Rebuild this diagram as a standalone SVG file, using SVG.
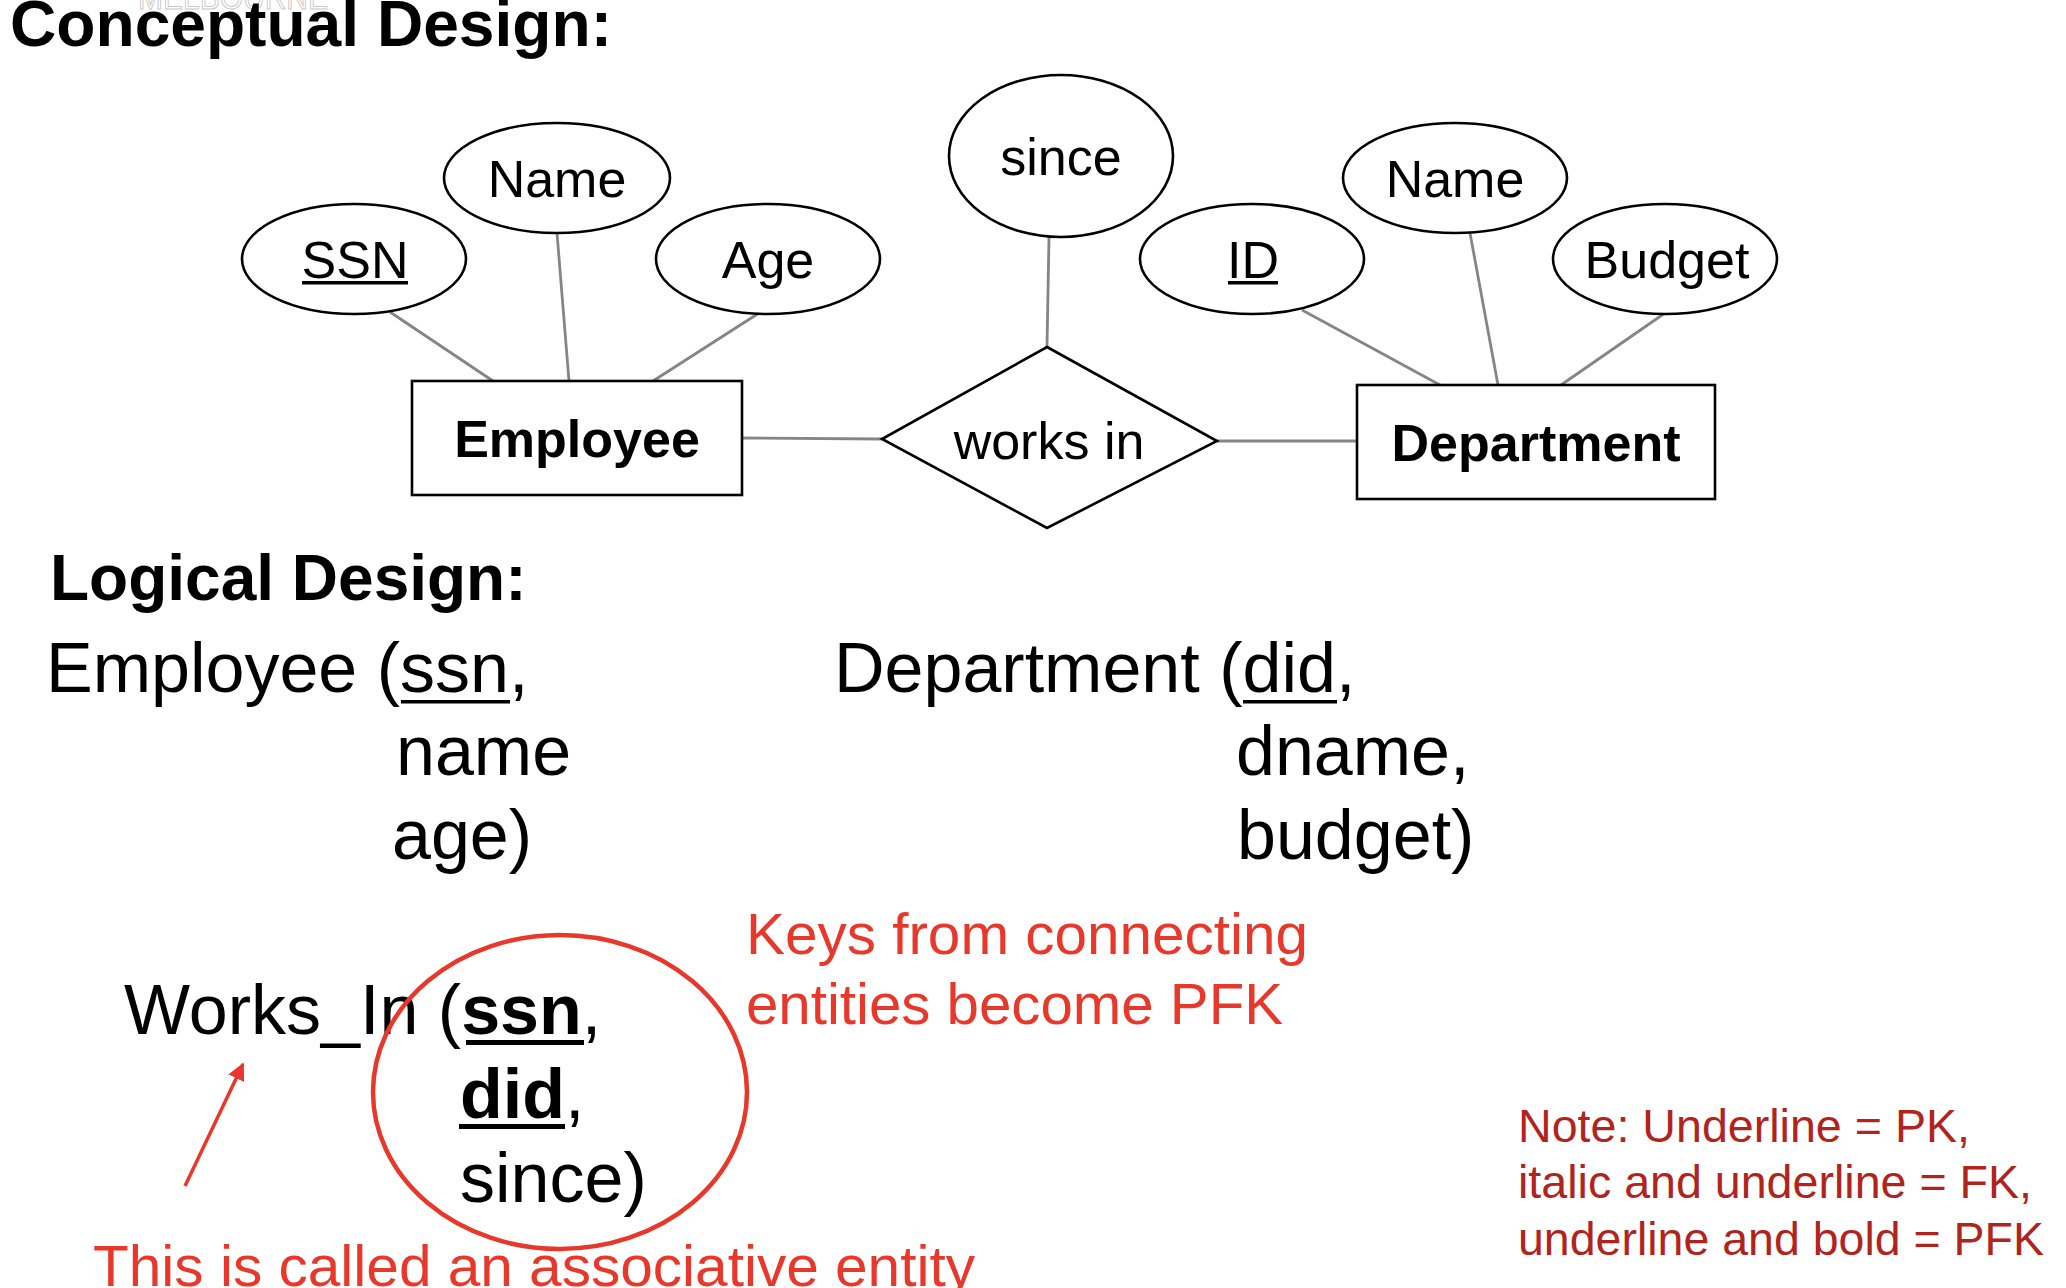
<svg xmlns="http://www.w3.org/2000/svg" width="2066" height="1288" viewBox="0 0 2066 1288">
  <style>
    text { font-family: "Liberation Sans", Arial, Helvetica, sans-serif; fill: #000; }
    .heading { font-size: 64px; font-weight: bold; }
    .attr-shape { fill: #fff; stroke: #000; stroke-width: 2.6; }
    .entity-shape { fill: #fff; stroke: #000; stroke-width: 2.6; }
    .attr-label { font-size: 52px; text-anchor: middle; }
    .entity-label { font-size: 52px; font-weight: bold; text-anchor: middle; }
    .link { stroke: #858585; stroke-width: 2.8; fill: none; }
    .ul { fill: #000; }
    .rel { font-size: 70px; }
    .rel-bold { font-weight: bold; }
    .note-red { fill: #e8382b; font-size: 58px; }
    .note-dark { fill: #b1241d; font-size: 46px; }
    .mark { fill: none; stroke: #e8382b; stroke-width: 4.5; }
  </style>
  <defs>
    <marker id="redHead" viewBox="0 0 10 10" refX="9" refY="5" markerWidth="5" markerHeight="5" orient="auto" markerUnits="strokeWidth">
      <path d="M0,0 L10,5 L0,10 z" fill="#e8382b"/>
    </marker>
  </defs>

  <rect x="0" y="0" width="2066" height="1288" fill="#fff"/>

  <!-- faint watermark at the top edge, behind the heading -->
  <text x="138" y="9" font-family="'Liberation Serif', serif" font-size="34" textLength="190" lengthAdjust="spacingAndGlyphs" style="fill:#fff;stroke:#c8c8c8;stroke-width:1">MELBOURNE</text>

  <text class="heading" x="10" y="46" textLength="602" lengthAdjust="spacingAndGlyphs">Conceptual Design:</text>

  <!-- ER connectors -->
  <g id="connectors">
    <line class="link" x1="390" y1="312" x2="493" y2="381"/>
    <line class="link" x1="557" y1="233" x2="569" y2="381"/>
    <line class="link" x1="759" y1="313" x2="653" y2="381"/>
    <line class="link" x1="1049" y1="237" x2="1047" y2="347"/>
    <line class="link" x1="1302" y1="310" x2="1440" y2="385"/>
    <line class="link" x1="1470" y1="233" x2="1498" y2="385"/>
    <line class="link" x1="1665" y1="313" x2="1561" y2="385"/>
    <line class="link" x1="742" y1="438" x2="882" y2="439"/>
    <line class="link" x1="1217" y1="441" x2="1357" y2="441"/>
  </g>

  <!-- Employee side -->
  <g id="attr-ssn">
    <ellipse class="attr-shape" cx="354" cy="259" rx="112" ry="55"/>
    <text class="attr-label" x="355" y="278">SSN</text>
    <rect class="ul" x="302" y="281" width="106" height="3.5"/>
  </g>
  <g id="attr-emp-name">
    <ellipse class="attr-shape" cx="557" cy="178" rx="113" ry="55"/>
    <text class="attr-label" x="557" y="197">Name</text>
  </g>
  <g id="attr-age">
    <ellipse class="attr-shape" cx="768" cy="259" rx="112" ry="55"/>
    <text class="attr-label" x="768" y="278">Age</text>
  </g>
  <g id="entity-employee">
    <rect class="entity-shape" x="412" y="381" width="330" height="114"/>
    <text class="entity-label" x="577" y="457">Employee</text>
  </g>

  <!-- Relationship -->
  <g id="attr-since">
    <ellipse class="attr-shape" cx="1061" cy="156" rx="112" ry="81"/>
    <text class="attr-label" x="1061" y="175">since</text>
  </g>
  <g id="rel-works-in">
    <polygon class="entity-shape" points="1047,347 1217,441 1047,528 882,439"/>
    <text class="attr-label" x="1049" y="459">works in</text>
  </g>

  <!-- Department side -->
  <g id="attr-id">
    <ellipse class="attr-shape" cx="1252" cy="259" rx="112" ry="55"/>
    <text class="attr-label" x="1253" y="278">ID</text>
    <rect class="ul" x="1228" y="281" width="50" height="3.5"/>
  </g>
  <g id="attr-dept-name">
    <ellipse class="attr-shape" cx="1455" cy="178" rx="112" ry="55"/>
    <text class="attr-label" x="1455" y="197">Name</text>
  </g>
  <g id="attr-budget">
    <ellipse class="attr-shape" cx="1665" cy="259" rx="112" ry="55"/>
    <text class="attr-label" x="1667" y="278">Budget</text>
  </g>
  <g id="entity-department">
    <rect class="entity-shape" x="1357" y="385" width="358" height="114"/>
    <text class="entity-label" x="1536" y="461">Department</text>
  </g>

  <!-- Logical design -->
  <text class="heading" x="50" y="600">Logical Design:</text>

  <g id="table-employee">
    <text class="rel" x="46" y="692">Employee (ssn,</text>
    <rect class="ul" x="401" y="700" width="109" height="3.5"/>
    <text class="rel" x="396" y="775">name</text>
    <text class="rel" x="392" y="859">age)</text>
  </g>

  <g id="table-department">
    <text class="rel" x="834" y="692">Department (did,</text>
    <rect class="ul" x="1243" y="700" width="94" height="3.5"/>
    <text class="rel" x="1236" y="775">dname,</text>
    <text class="rel" x="1237" y="859">budget)</text>
  </g>

  <g id="table-works-in">
    <text class="rel" x="124" y="1034">Works_In (<tspan class="rel-bold">ssn</tspan>,</text>
    <rect class="ul" x="466" y="1040" width="118" height="5"/>
    <text class="rel" x="460" y="1118"><tspan class="rel-bold">did</tspan>,</text>
    <rect class="ul" x="459" y="1124" width="106" height="5"/>
    <text class="rel" x="460" y="1202">since)</text>
  </g>

  <!-- annotations -->
  <g id="pfk-highlight">
    <ellipse class="mark" cx="560" cy="1092" rx="187" ry="157"/>
  </g>
  <g id="assoc-pointer">
    <line x1="185" y1="1186" x2="243" y2="1064" stroke="#e8382b" stroke-width="3.5" marker-end="url(#redHead)"/>
  </g>
  <text class="note-red" x="746" y="954" textLength="562" lengthAdjust="spacingAndGlyphs">Keys from connecting</text>
  <text class="note-red" x="746" y="1024" textLength="537" lengthAdjust="spacingAndGlyphs">entities become PFK</text>
  <text class="note-red" x="93" y="1286" textLength="882" lengthAdjust="spacingAndGlyphs">This is called an associative entity</text>

  <g id="legend">
    <text class="note-dark" x="1518" y="1142" textLength="452" lengthAdjust="spacingAndGlyphs">Note: Underline = PK,</text>
    <text class="note-dark" x="1518" y="1198" textLength="514" lengthAdjust="spacingAndGlyphs">italic and underline = FK,</text>
    <text class="note-dark" x="1518" y="1255" textLength="526" lengthAdjust="spacingAndGlyphs">underline and bold = PFK</text>
  </g>
</svg>
